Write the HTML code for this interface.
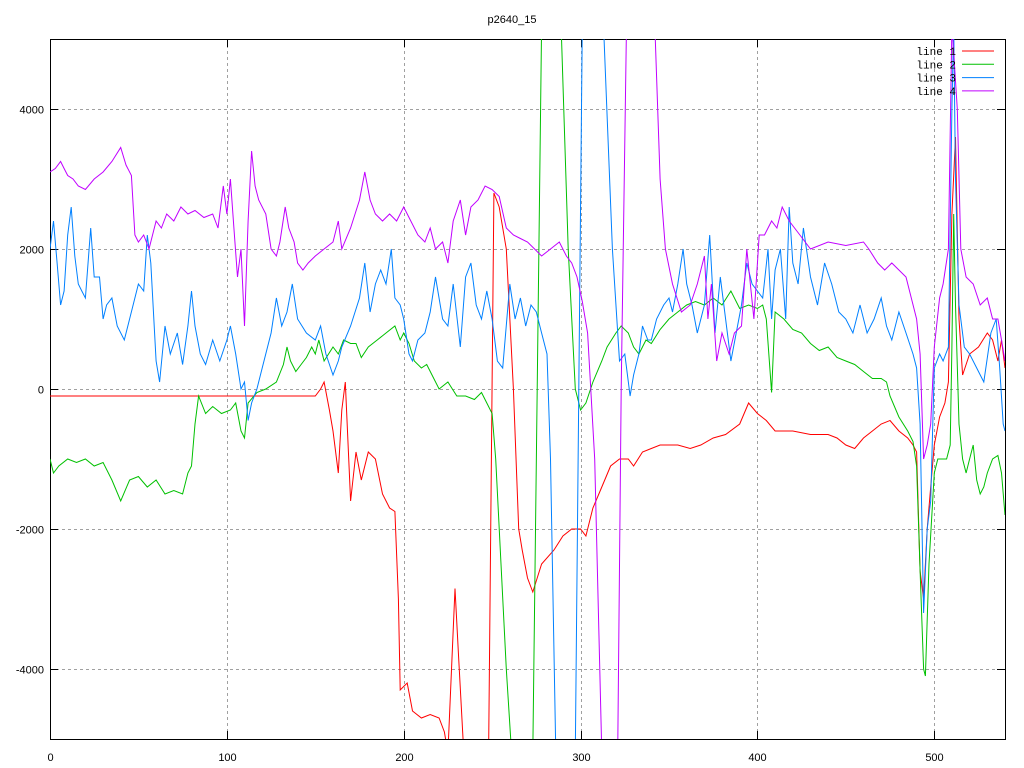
<!DOCTYPE html>
<html><head><meta charset="utf-8"><style>
html,body{margin:0;padding:0;background:#fff;}
svg{display:block;font-family:"Liberation Sans",sans-serif;}
</style></head><body>
<svg id="chart" width="1024" height="768" viewBox="0 0 1024 768" xmlns="http://www.w3.org/2000/svg">
<defs><clipPath id="plotclip"><rect x="50" y="39" width="955" height="700"/></clipPath></defs>
<text x="512" y="23" text-anchor="middle" font-size="11" fill="#000">p2640_15</text>
<g id="grid"></g>
<g id="axes"></g>
<g id="series" clip-path="url(#plotclip)"></g>
<g id="legend"></g>
</svg>
<script>
const xTicks=[0,100,200,300,400,500];
const yTicks=[-4000,-2000,0,2000,4000];
const seriesNames=["line 1","line 2","line 3","line 4"];
const seriesColors=["#ff0000","#00c000","#0080ff","#c000ff"];
const x1=[0,150,153,155,158,160,163,165,167,170,173,176,180,184,188,192,195,197,198,202,205,210,215,220,223,225,229,231,234,248,251,254,258,262,265,267,270,273,278,285,290,295,300,303,307,312,317,322,327,330,335,340,345,355,362,368,375,382,390,395,400,405,410,420,430,440,445,450,455,460,465,470,475,480,485,488,490,492,494,496,498,500,503,506,508,510,512,514,516,520,525,530,533,536,538,540];
const y1=[-100,-100,0,100,-300,-600,-1200,-300,100,-1600,-900,-1300,-900,-1000,-1500,-1700,-1750,-3000,-4300,-4200,-4600,-4700,-4650,-4700,-4900,-5200,-2850,-3800,-5200,-5200,2800,2600,2000,0,-2000,-2300,-2700,-2900,-2500,-2300,-2100,-2000,-2000,-2100,-1700,-1400,-1100,-1000,-1000,-1100,-900,-850,-800,-800,-850,-800,-700,-650,-500,-200,-350,-450,-600,-600,-650,-650,-700,-800,-850,-700,-600,-500,-450,-600,-700,-800,-900,-2600,-3000,-2000,-1400,-800,-400,-200,100,2500,3600,1000,200,500,600,800,700,400,700,300];
const x2=[0,2,5,10,15,20,25,30,35,40,45,50,55,60,65,70,75,78,80,82,84,88,92,97,102,105,108,110,112,117,122,128,132,134,136,139,142,145,148,150,152,155,160,163,166,170,173,176,180,185,190,195,198,200,203,206,210,213,217,220,225,230,235,240,244,247,250,252,255,258,261,273,278,289,293,297,300,303,307,312,315,320,323,327,330,333,337,340,345,350,355,360,365,370,375,380,385,390,395,400,403,405,408,410,415,420,425,430,435,440,445,450,455,460,465,470,473,475,480,485,488,490,492,494,495,497,500,502,505,507,509,510,511,512,514,516,518,520,522,524,526,528,530,533,536,538,540];
const y2=[-1000,-1200,-1100,-1000,-1050,-1000,-1100,-1050,-1300,-1600,-1300,-1250,-1400,-1300,-1500,-1450,-1500,-1200,-1100,-500,-100,-350,-250,-350,-300,-200,-600,-700,-200,-50,0,100,350,600,400,250,350,450,600,500,700,400,600,500,700,650,650,450,600,700,800,900,700,800,650,400,300,350,150,0,100,-100,-100,-150,-50,-200,-350,-1000,-2500,-4000,-5200,-5200,5200,5200,2000,0,-300,-200,100,400,600,800,900,800,600,500,700,650,850,1000,1100,1200,1250,1200,1300,1200,1400,1150,1200,1150,1200,1000,-50,1100,1000,850,800,650,550,600,450,400,350,250,150,150,100,-100,-400,-600,-750,-1100,-2600,-4000,-4100,-2500,-1200,-1000,-1000,-1000,-800,600,2500,1200,-500,-1000,-1200,-1000,-800,-1300,-1500,-1400,-1200,-1000,-950,-1200,-1800];
const x3=[0,2,4,6,8,10,12,14,16,18,20,23,25,28,30,32,35,38,42,45,50,53,55,57,60,62,65,68,72,75,78,80,82,85,88,92,96,100,102,105,108,110,112,114,117,120,125,128,131,134,137,140,145,150,153,156,160,163,165,170,175,178,181,184,187,190,193,195,198,200,203,205,208,212,215,218,222,225,228,232,235,238,241,244,247,250,253,256,260,263,266,269,272,275,278,281,283,286,297,301,313,318,322,325,328,330,333,335,338,340,343,347,350,352,355,358,360,363,366,370,373,376,379,382,385,388,391,394,397,400,403,406,408,410,413,416,418,420,423,426,430,434,438,442,446,450,454,458,462,466,470,473,476,480,484,488,490,492,494,496,498,500,503,505,508,510,511,512,514,517,520,524,528,532,535,537,539,540];
const y3=[2000,2400,1800,1200,1400,2200,2600,1900,1500,1400,1300,2300,1600,1600,1000,1200,1300,900,700,1000,1500,1400,2200,1800,400,100,900,500,800,350,900,1400,900,500,350,700,400,700,900,500,0,100,-450,-200,0,300,800,1300,900,1100,1500,1000,800,700,900,500,200,400,600,900,1300,1800,1100,1500,1700,1500,2000,1300,1200,1000,500,400,700,800,1100,1600,1000,900,1500,600,1600,1800,1200,1000,1400,1000,400,300,1500,1000,1300,900,1200,1100,800,500,-1000,-5200,-5200,5200,5200,2000,400,500,-100,200,500,900,700,700,1000,1200,1300,1100,1500,2000,1500,1200,800,1200,2200,800,1600,1000,400,800,1200,1800,1500,1400,1300,2000,1000,1700,2000,1000,2600,1800,1500,2300,1600,1200,1800,1500,1100,1000,800,1200,800,1000,1300,900,700,1100,800,500,300,-500,-3200,-2000,-1600,300,500,400,600,4000,5200,3000,1200,600,500,300,100,800,1000,300,-500,-600];
const x4=[0,3,6,8,10,13,16,20,25,30,35,40,43,46,48,50,53,56,60,63,66,70,74,78,82,87,92,95,98,100,102,104,106,108,110,112,114,116,118,122,125,128,130,133,135,138,140,143,146,150,155,160,163,165,170,175,178,181,184,188,192,196,200,204,208,212,215,218,222,225,228,232,235,238,242,246,250,254,258,262,266,270,274,278,283,288,292,295,298,301,304,308,312,321,323,326,342,345,348,352,357,362,366,370,372,374,377,380,384,387,391,394,398,401,404,408,411,414,418,424,430,440,450,460,463,468,472,476,480,484,487,490,492,494,496,498,500,503,505,508,510,513,515,518,522,526,530,533,536,538,540];
const y4=[3100,3150,3250,3150,3050,3000,2900,2850,3000,3100,3250,3450,3200,3050,2200,2100,2200,2000,2400,2300,2500,2400,2600,2500,2550,2450,2500,2300,2900,2500,3000,2300,1600,2000,900,2400,3400,2900,2700,2500,2000,1900,2100,2600,2300,2100,1800,1700,1800,1900,2000,2100,2400,2000,2300,2700,3100,2700,2500,2400,2500,2400,2600,2400,2200,2100,2300,2000,2100,1800,2400,2700,2200,2600,2700,2900,2850,2750,2300,2200,2150,2100,2000,1900,2000,2100,1900,1800,1600,1250,800,-1000,-5200,-5200,0,5200,5200,3000,2000,1500,1100,1200,1500,1900,1000,1500,400,800,500,800,900,2000,1000,2200,2200,2400,2300,2600,2400,2200,2000,2100,2050,2100,2000,1800,1700,1800,1700,1600,1300,1000,500,-1000,-800,-500,600,1300,1500,2000,5200,4000,2000,1600,1500,1200,1300,1000,1000,700,400];
const allX=[x1,x2,x3,x4], allY=[y1,y2,y3,y4];
const L=50,R=1005,T=39,B=739;
function sx(v){return L+(v-0)/(540-0)*(R-L);}
function sy(v){return B-(v+5000)/10000*(B-T);}
const NS="http://www.w3.org/2000/svg";
function mk(tag,attrs,parent){const e=document.createElementNS(NS,tag);for(const k in attrs)e.setAttribute(k,attrs[k]);parent.appendChild(e);return e;}
const grid=document.getElementById('grid'),axes=document.getElementById('axes'),ser=document.getElementById('series'),leg=document.getElementById('legend');
yTicks.forEach(v=>{const y=Math.round(sy(v))+0.5;
 const g=mk('line',{x1:L,x2:R,y1:y,y2:y,stroke:'#a0a0a0','stroke-dasharray':'3,3'},grid);
 
 
 mk('line',{x1:L,x2:L+8,y1:y,y2:y,stroke:'#000'},axes);
 mk('line',{x1:R-8,x2:R,y1:y,y2:y,stroke:'#000'},axes);
 const t=mk('text',{x:L-6,y:y+4,'text-anchor':'end','font-size':'11'},axes);t.textContent=v;
 
 
});
xTicks.forEach(v=>{const x=Math.round(sx(v))+0.5;
 if(v>0){const g=mk('line',{x1:x,x2:x,y1:T,y2:B,stroke:'#a0a0a0','stroke-dasharray':'3,3'},grid);
 
 }
 mk('line',{x1:x,x2:x,y1:B-8,y2:B,stroke:'#000'},axes);
 mk('line',{x1:x,x2:x,y1:T,y2:T+8,stroke:'#000'},axes);
 const t=mk('text',{x:x,y:761,'text-anchor':'middle','font-size':'11'},axes);t.textContent=v;
 
 
});
const fr=mk('rect',{x:L+0.5,y:T+0.5,width:R-L,height:B-T,fill:'none',stroke:'#000'},axes);


allX.forEach((xs,i)=>{
 const d=xs.map((xv,j)=>(j?'L':'M')+sx(xv).toFixed(1)+','+sy(allY[i][j]).toFixed(1)).join(' ');
 const p=mk('path',{d:d,fill:'none',stroke:seriesColors[i],'stroke-width':'1'},ser);
 
 
});
seriesNames.forEach((n,i)=>{const y=51+i*13.3;
 const t=mk('text',{x:956,y:y+4,'text-anchor':'end','font-size':'11','font-family':'Liberation Mono, monospace'},leg);t.textContent=n;
 
 
 const l=mk('line',{x1:962,x2:994,y1:y,y2:y,stroke:seriesColors[i]},leg);
 
 
});
</script>
</body></html>
